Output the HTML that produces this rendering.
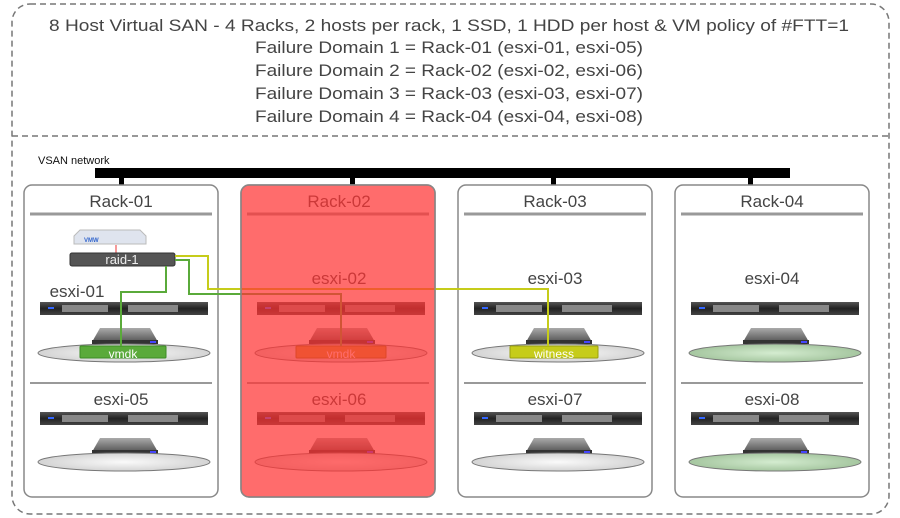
<!DOCTYPE html>
<html><head><meta charset="utf-8"><style>html,body{margin:0;padding:0;background:#fff}svg{display:block}</style></head>
<body>
<svg width="900" height="518" viewBox="0 0 900 518" xmlns="http://www.w3.org/2000/svg" font-family="Liberation Sans, sans-serif">
<defs>
<linearGradient id="srv" x1="0" y1="0" x2="0" y2="1"><stop offset="0" stop-color="#555"/><stop offset="0.5" stop-color="#222"/><stop offset="1" stop-color="#444"/></linearGradient>
<linearGradient id="dsk" x1="0" y1="0" x2="0" y2="1"><stop offset="0" stop-color="#aaa"/><stop offset="1" stop-color="#555"/></linearGradient>
<radialGradient id="ell" cx="0.5" cy="0.5" r="0.6"><stop offset="0" stop-color="#fafafa"/><stop offset="1" stop-color="#ccc"/></radialGradient>
<radialGradient id="ellg" cx="0.5" cy="0.5" r="0.6"><stop offset="0" stop-color="#d4ecd0"/><stop offset="1" stop-color="#9cbf96"/></radialGradient>
<g id="host">
 <rect x="0" y="0" width="168" height="13" fill="url(#srv)"/>
 <rect x="22" y="3" width="46" height="7" fill="#888"/><rect x="88" y="3" width="50" height="7" fill="#888"/>
 <rect x="8" y="5" width="6" height="2" fill="#36f"/>
 <path d="M60 26 L110 26 L118 40 L52 40 Z" fill="url(#dsk)"/>
 <rect x="52" y="38" width="66" height="4" fill="#333"/>
 <rect x="110" y="39" width="6" height="2" fill="#44f"/>
</g>
</defs>
<rect x="12" y="4" width="877" height="510" rx="18" fill="none" stroke="#777" stroke-width="1.5" stroke-dasharray="6,4"/>
<line x1="12" y1="136" x2="889" y2="136" stroke="#777" stroke-width="1.5" stroke-dasharray="6,4"/>
<g fill="#444" font-size="17" text-anchor="middle">
<text x="449" y="31" textLength="800" lengthAdjust="spacingAndGlyphs">8 Host Virtual SAN - 4 Racks, 2 hosts per rack, 1 SSD, 1 HDD per host &amp; VM policy of #FTT=1</text>
<text x="449" y="53" textLength="388" lengthAdjust="spacingAndGlyphs">Failure Domain 1 = Rack-01 (esxi-01, esxi-05)</text>
<text x="449" y="76" textLength="388" lengthAdjust="spacingAndGlyphs">Failure Domain 2 = Rack-02 (esxi-02, esxi-06)</text>
<text x="449" y="99" textLength="388" lengthAdjust="spacingAndGlyphs">Failure Domain 3 = Rack-03 (esxi-03, esxi-07)</text>
<text x="449" y="122" textLength="388" lengthAdjust="spacingAndGlyphs">Failure Domain 4 = Rack-04 (esxi-04, esxi-08)</text>
</g>
<text x="38" y="164" font-size="11" fill="#111">VSAN network</text>
<rect x="95" y="168" width="695" height="10" fill="#000"/>
<g fill="#000"><rect x="119" y="177" width="5" height="8"/><rect x="350" y="177" width="5" height="8"/><rect x="551" y="177" width="5" height="8"/><rect x="748" y="177" width="5" height="8"/></g>
<!-- racks -->
<g stroke="#888" stroke-width="1.5" fill="#fff">
<rect x="24" y="185" width="194" height="312" rx="8"/>
<rect x="458" y="185" width="194" height="312" rx="8"/>
<rect x="675" y="185" width="194" height="312" rx="8"/>
<rect x="241" y="185" width="194" height="312" rx="8"/>
</g>
<g fill="#444" font-size="17" text-anchor="middle">
<text x="121" y="207">Rack-01</text><text x="555" y="207">Rack-03</text><text x="772" y="207">Rack-04</text>
<text x="339" y="284">esxi-02</text><text x="555" y="284">esxi-03</text><text x="772" y="284">esxi-04</text>
<text x="77" y="297">esxi-01</text>
<text x="121" y="405">esxi-05</text><text x="339" y="405">esxi-06</text><text x="555" y="405">esxi-07</text><text x="772" y="405">esxi-08</text>
<text x="339" y="207">Rack-02</text>
</g>
<g stroke="#999" stroke-width="3">
<line x1="30" y1="214" x2="212" y2="214"/><line x1="464" y1="214" x2="646" y2="214"/><line x1="681" y1="214" x2="863" y2="214"/><line x1="247" y1="214" x2="429" y2="214"/>
<line x1="30" y1="383" x2="212" y2="383" stroke-width="2"/><line x1="464" y1="383" x2="646" y2="383" stroke-width="2"/><line x1="681" y1="383" x2="863" y2="383" stroke-width="2"/><line x1="247" y1="383" x2="429" y2="383" stroke-width="2"/>
</g>
<!-- hosts -->
<g>
<use href="#host" x="40" y="302"/><use href="#host" x="257" y="302"/><use href="#host" x="474" y="302"/><use href="#host" x="691" y="302"/>
<use href="#host" x="40" y="412"/><use href="#host" x="257" y="412"/><use href="#host" x="474" y="412"/><use href="#host" x="691" y="412"/>
<g stroke="#777" stroke-width="1">
<ellipse cx="124" cy="353" rx="86" ry="9" fill="url(#ell)"/><ellipse cx="341" cy="353" rx="86" ry="9" fill="url(#ell)"/><ellipse cx="558" cy="353" rx="86" ry="9" fill="url(#ell)"/><ellipse cx="775" cy="353" rx="86" ry="9" fill="url(#ellg)"/>
<ellipse cx="124" cy="462" rx="86" ry="9" fill="url(#ell)"/><ellipse cx="341" cy="462" rx="86" ry="9" fill="url(#ell)"/><ellipse cx="558" cy="462" rx="86" ry="9" fill="url(#ell)"/><ellipse cx="775" cy="462" rx="86" ry="9" fill="url(#ellg)"/>
</g>
</g>
<!-- raid -->
<path d="M74 236 L80 230 L140 230 L146 236 L146 244 L74 244 Z" fill="#dfe4ee" stroke="#bbb"/>
<text x="84" y="242" font-size="6" fill="#36c" font-weight="bold">VMW</text>
<line x1="116" y1="245" x2="116" y2="253" stroke="#e33" stroke-width="1"/>
<rect x="70" y="253" width="105" height="13" rx="2" fill="#555" stroke="#333"/>
<text x="122" y="264" font-size="13" fill="#eee" text-anchor="middle">raid-1</text>
<!-- vmdk boxes -->
<rect x="80" y="346" width="86" height="12" rx="1" fill="#5aaa3a" stroke="#3c8c25"/>
<text x="123" y="358" font-size="12" fill="#fff" text-anchor="middle">vmdk</text>
<rect x="296" y="346" width="90" height="12" rx="1" fill="#c9a033" stroke="#8a7a10"/>
<text x="341" y="358" font-size="12" fill="#fff" text-anchor="middle">vmdk</text>
<rect x="510" y="346" width="88" height="12" rx="1" fill="#c6cc1a" stroke="#99a010"/>
<text x="554" y="358" font-size="12" fill="#fff" text-anchor="middle">witness</text>
<!-- connectors -->
<g fill="none" stroke-width="2">
<polyline points="166,266 166,292 121,292 121,346" stroke="#5aaa3a"/>
<polyline points="175,260 189,260 189,294 341,294 341,346" stroke="#5aaa3a"/>
<polyline points="175,256 208,256 208,289 548,289 548,346" stroke="#c6cc1a"/>
</g>
<!-- failed rack overlay -->
<rect x="241" y="185" width="194" height="312" rx="8" fill="#ff3333" fill-opacity="0.72" stroke="#888" stroke-width="1.5"/>
</svg>
</body></html>
